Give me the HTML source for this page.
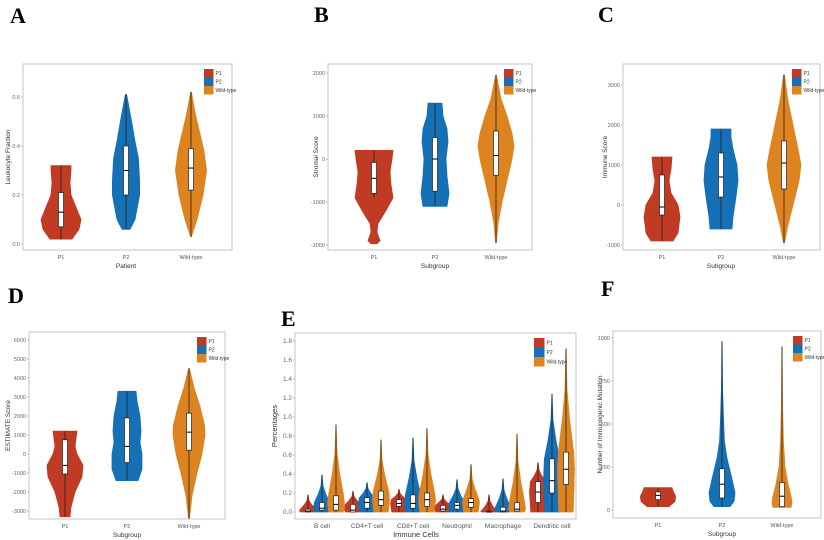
<!DOCTYPE html>
<html><head><meta charset="utf-8"><style>
html,body{margin:0;padding:0;background:#fff;}
svg{display:block;font-family:"Liberation Sans",sans-serif;}
.pl{font-family:"Liberation Serif",serif;font-weight:bold;font-size:22px;fill:#000;}
</style></head><body>
<svg id="fig" width="824" height="540" viewBox="0 0 824 540">
<text class="pl" x="10" y="23">A</text>
<text class="pl" x="314" y="22">B</text>
<text class="pl" x="598" y="22">C</text>
<text class="pl" x="8" y="303">D</text>
<text class="pl" x="281" y="326">E</text>
<text class="pl" x="601" y="296">F</text>
</svg>
<script>
const groups = ["P1","P2","Wild-type"];
const colors = ["#C13A24","#1570B6","#DD8420"];
// Panel A: Leukocyte Fraction
const aTicks = [0,0.2,0.4,0.6];
const aTickLabels = ["0.0","0.2","0.4","0.6"];
const aBoxes = [[0.02,0.07,0.13,0.21,0.32],[0.06,0.2,0.3,0.4,0.61],[0.03,0.22,0.31,0.39,0.62]];
const aShapes = [
 [[0.02,0.55],[0.06,0.9],[0.1,1.0],[0.14,0.8],[0.2,0.5],[0.25,0.45],[0.3,0.5],[0.32,0.5]],
 [[0.06,0.2],[0.1,0.45],[0.2,0.68],[0.26,0.68],[0.35,0.62],[0.42,0.45],[0.5,0.28],[0.58,0.1],[0.61,0.03]],
 [[0.03,0.02],[0.1,0.3],[0.2,0.6],[0.3,0.78],[0.38,0.65],[0.45,0.45],[0.53,0.22],[0.62,0.02]]];
// Panel B: Stromal Score
const bTicks = [-2000,-1000,0,1000,2000];
const bTickLabels = ["-2000","-1000","0","1000","2000"];
const bBoxes = [[-900,-800,-450,-80,200],[-1100,-750,0,500,1300],[-1950,-380,80,650,1950]];
const bShapes = [
 [[-1970,0.15],[-1900,0.3],[-1700,0.15],[-1500,0.2],[-1200,0.6],[-900,0.95],[-600,0.85],[-300,0.8],[0,0.9],[200,0.95]],
 [[-1100,0.6],[-800,0.7],[-400,0.6],[0,0.55],[400,0.65],[700,0.6],[1000,0.4],[1300,0.35]],
 [[-1950,0.02],[-1500,0.1],[-1000,0.3],[-400,0.6],[0,0.8],[300,0.9],[600,0.8],[1000,0.55],[1400,0.25],[1950,0.02]]];
// Panel C: Immune Score
const cTicks = [-1000,0,1000,2000,3000];
const cTickLabels = ["-1000","0","1000","2000","3000"];
const cBoxes = [[-900,-250,-50,750,1200],[-600,200,700,1300,1900],[-950,400,1050,1600,3250]];
const cShapes = [
 [[-900,0.55],[-700,0.8],[-300,0.9],[0,0.8],[300,0.45],[600,0.35],[900,0.45],[1200,0.5]],
 [[-600,0.55],[-300,0.6],[200,0.75],[600,0.85],[1000,0.8],[1400,0.6],[1700,0.5],[1900,0.5]],
 [[-950,0.02],[-500,0.2],[0,0.45],[600,0.75],[1000,0.85],[1400,0.7],[2000,0.45],[2600,0.2],[3250,0.02]]];
// Panel D: ESTIMATE Score
const dTicks = [-3000,-2000,-1000,0,1000,2000,3000,4000,5000,6000];
const dTickLabels = ["-3000","-2000","-1000","0","1000","2000","3000","4000","5000","6000"];
const dBoxes = [[-3300,-1050,-600,750,1200],[-1400,-450,400,1900,3300],[-3400,200,1150,2150,4500]];
const dShapes = [
 [[-3300,0.25],[-2800,0.3],[-2000,0.5],[-1200,0.85],[-600,0.9],[0,0.6],[400,0.5],[800,0.55],[1200,0.6]],
 [[-1400,0.55],[-800,0.75],[0,0.75],[600,0.65],[1200,0.7],[2000,0.65],[2800,0.5],[3300,0.45]],
 [[-3400,0.02],[-2200,0.15],[-1000,0.4],[0,0.65],[1000,0.8],[1500,0.78],[2500,0.55],[3500,0.25],[4500,0.02]]];
// Panel F: Number of Immunogenic Mutation
const fTicks = [0,250,500,750,1000];
const fTickLabels = ["0","250","500","750","1000"];
const fBoxes = [[20,60,85,105,130],[20,70,150,240,980],[15,20,80,160,950]];
const fShapes = [
 [[20,0.55],[50,0.85],[80,0.88],[110,0.75],[130,0.7]],
 [[20,0.4],[50,0.6],[100,0.65],[180,0.5],[300,0.25],[400,0.12],[550,0.07],[700,0.03],[980,0.005]],
 [[15,0.45],[40,0.5],[80,0.45],[150,0.3],[250,0.15],[400,0.07],[600,0.03],[950,0.005]]];
// Panel E: immune cells
const eCells = ["B cell","CD4+T cell","CD8+T cell","Neutrophil","Macrophage","Dendritic cell"];
const eTicks = [0,0.2,0.4,0.6,0.8,1.0,1.2,1.4,1.6,1.8];
const eTickLabels = ["0.0","0.2","0.4","0.6","0.8","1.0","1.2","1.4","1.6","1.8"];
// [max, q1, median, q3] per group
const eP1 = [[0.18,0.0,0.01,0.03],[0.22,0.0,0.02,0.08],[0.24,0.06,0.09,0.13],[0.18,0.01,0.03,0.07],[0.18,0.0,0.0,0.01],[0.52,0.1,0.21,0.32]];
const eP2 = [[0.39,0.02,0.04,0.1],[0.31,0.04,0.1,0.15],[0.78,0.04,0.09,0.18],[0.34,0.03,0.07,0.1],[0.35,0.0,0.01,0.05],[1.24,0.2,0.33,0.56]];
const eWT = [[0.92,0.02,0.08,0.17],[0.76,0.07,0.13,0.22],[0.88,0.06,0.13,0.2],[0.5,0.05,0.1,0.14],[0.82,0.01,0.03,0.1],[1.72,0.29,0.45,0.63]];

const NS="http://www.w3.org/2000/svg";
const svg=document.getElementById('fig');
function mk(tag,attrs,parent){const e=document.createElementNS(NS,tag);for(const k in attrs)e.setAttribute(k,attrs[k]);(parent||svg).appendChild(e);return e;}
function scale(v0,p0,v1,p1){return v=>p0+(v-v0)*(p1-p0)/(v1-v0);}

function frame(P){
  const g=mk('g',{});
  
  
  const r=mk('rect',{x:P.box[0],y:P.box[1],width:P.box[2]-P.box[0],height:P.box[3]-P.box[1],fill:'none',stroke:'#cfcfcf','stroke-width':1.2},g);
  
  
  P.ticks.forEach((t,i)=>{
    const y=P.y(t);
    const tk=mk('line',{x1:P.box[0]-2,x2:P.box[0],y1:y,y2:y,stroke:'#999','stroke-width':0.6},g);
    
    
    const tl=mk('text',{x:P.box[0]-3,y:y+2,'text-anchor':'end','font-size':P.tfs,fill:'#666'},g);
    tl.textContent=P.tickLabels[i];
    
    
  });
  const yt=mk('text',{transform:`translate(${P.ytx},${(P.box[1]+P.box[3])/2}) rotate(-90)`,'text-anchor':'middle','font-size':P.afs,fill:'#333'},g);
  yt.textContent=P.ytitle;
  
  
  const xt=mk('text',{x:P.xtx,y:P.box[3]+18,'text-anchor':'middle','font-size':P.afs,fill:'#333'},g);
  xt.textContent=P.xtitle;
  
  
  P.xlabels.forEach((l,i)=>{
    const t=mk('text',{x:P.xs[i],y:P.box[3]+9,'text-anchor':'middle','font-size':P.tfs,fill:'#555'},g);
    t.textContent=l;
    
    
  });
  const lx=P.box[2]-P.legW, ly=P.box[1]+5;
  groups.forEach((gname,i)=>{
    const sq=mk('rect',{x:lx,y:ly+i*P.legH,width:P.legH+1,height:P.legH,fill:colors[i]},g);
    
    
    const lt=mk('text',{x:lx+P.legH+3,y:ly+i*P.legH+P.legH*0.7,'font-size':P.lfs,fill:'#333'},g);
    lt.textContent=gname;
    
    
  });
  return g;
}

function violin(g,y,cx,unit,shape,bx,color,bw,name){
  let L=[],R=[];
  shape.forEach(([v,w])=>{R.push([cx+w*unit,y(v)]);L.push([cx-w*unit,y(v)]);});
  const pts=R.concat(L.reverse());
  const p=mk('path',{d:'M'+pts.map(q=>q[0].toFixed(1)+','+q[1].toFixed(1)).join('L')+'Z',fill:color,stroke:color,'stroke-width':0.8,'stroke-linejoin':'round'},g);
  
  
  const wl=mk('line',{x1:cx,x2:cx,y1:y(bx[0]),y2:y(bx[4]),stroke:'#222','stroke-width':0.8},g);
  
  
  const b=mk('rect',{x:cx-bw/2,y:y(bx[3]),width:bw,height:Math.max(1,y(bx[1])-y(bx[3])),fill:'#fff',stroke:'#222','stroke-width':0.7},g);
  
  
  const m=mk('line',{x1:cx-bw/2,x2:cx+bw/2,y1:y(bx[2]),y2:y(bx[2]),stroke:'#111','stroke-width':1.1},g);
  
  
}

const panels=[
 {name:'panel-a-leukocyte',box:[23,64,232,250],y:scale(0,244,0.6,97),ticks:aTicks,tickLabels:aTickLabels,xs:[61,126,191],ytitle:'Leukocyte Fraction',ytx:10,xtitle:'Patient',xtx:126,boxes:aBoxes,shapes:aShapes},
 {name:'panel-b-stromal',box:[328,64,532,250],y:scale(0,159,2000,73),ticks:bTicks,tickLabels:bTickLabels,xs:[374,435,496],ytitle:'Stromal Score',ytx:318,xtitle:'Subgroup',xtx:435,boxes:bBoxes,shapes:bShapes},
 {name:'panel-c-immune',box:[623,64,820,250],y:scale(0,205,3000,85),ticks:cTicks,tickLabels:cTickLabels,xs:[662,721,784],ytitle:'Immune Score',ytx:607,xtitle:'Subgroup',xtx:721,boxes:cBoxes,shapes:cShapes},
 {name:'panel-d-estimate',box:[29,332,225,519],y:scale(0,454,6000,340),ticks:dTicks,tickLabels:dTickLabels,xs:[65,127,189],ytitle:'ESTIMATE Score',ytx:10,xtitle:'Subgroup',xtx:127,boxes:dBoxes,shapes:dShapes},
 {name:'panel-f-mutation',box:[613,331,821,518],y:scale(0,510,1000,338),ticks:fTicks,tickLabels:fTickLabels,xs:[658,722,782],ytitle:'Number of Immunogenic Mutation',ytx:602,xtitle:'Subgroup',xtx:722,boxes:fBoxes,shapes:fShapes}
];
panels.forEach(P=>{
  Object.assign(P,{tfs:5.5,afs:6.5,lfs:5,legW:28,legH:8.5,xlabels:groups});
  const g=frame(P);
  P.boxes.forEach((bx,i)=>violin(g,P.y,P.xs[i],20,P.shapes[i],bx,colors[i],5,P.name+'-'+groups[i].toLowerCase()));
});

// Panel E
const E={name:'panel-e-immune-cells',box:[295,333,576,519],y:scale(0,512,1.8,341),ticks:eTicks,tickLabels:eTickLabels,xs:[322,367,413,457,503,552],ytitle:'Percentages',ytx:277,xtitle:'Immune Cells',xtx:416,tfs:6.5,afs:7.5,lfs:5,legW:42,legH:9.5,xlabels:eCells};
const eg=frame(E);
[eP1,eP2,eWT].forEach((arr,gi)=>{
  arr.forEach((d,ci)=>{
    const [mx,q1,md,q3]=d;
    const shape=[[0,0.85],[Math.max(md,0.01),1.0],[q3,0.9],[q3+(mx-q3)*0.3,0.45],[q3+(mx-q3)*0.6,0.12],[mx,0.01]];
    const cx=E.xs[ci]+(gi-1)*14;
    violin(eg,E.y,cx,8.5,shape,[0,q1,md,q3,mx],colors[gi],5,'e-'+ci+'-'+groups[gi].toLowerCase());
  });
});
</script>
</body></html>
